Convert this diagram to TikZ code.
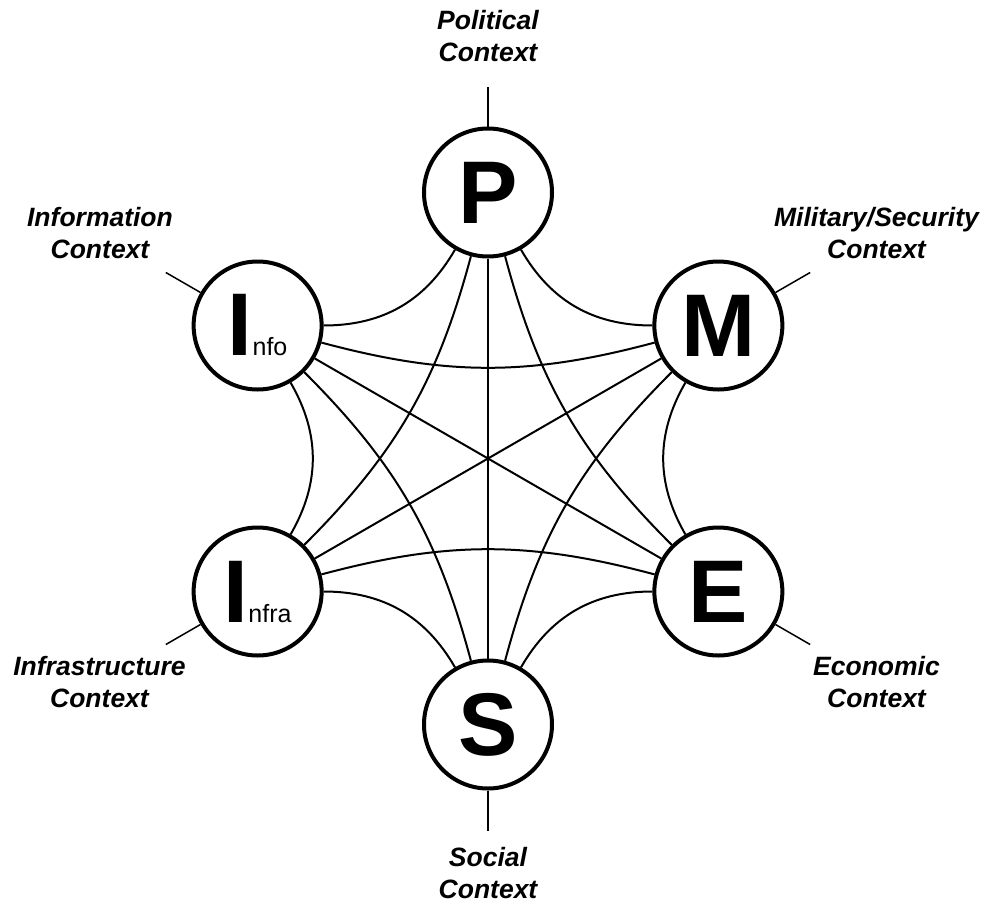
\documentclass[tikz,border=0pt]{standalone}
\usepackage{fontspec}
\setmainfont{Liberation Sans}
\usetikzlibrary{calc}

\tikzset{
    ctx/.style={circle, draw, line width=4pt, minimum size=128pt, inner sep=0pt,
        font=\fontsize{89}{89}\selectfont\bfseries},
    link/.style={line width=2pt},
    stub/.style={line width=1.5pt},
    lbl/.style={align=center, inner sep=0pt,
        font=\fontsize{26.5}{32}\selectfont\bfseries\itshape}
}
\newcommand{\tailtext}[1]{{\fontsize{25}{25}\selectfont\mdseries #1}}

\begin{document}
\begin{tikzpicture}[x=1pt,y=1pt]
        \useasboundingbox (-488,458.5) rectangle (497,-447.5);
        \node[ctx] (pol) at (90:266) {P};
        \node[ctx] (mil) at (30:266) {M};
        \node[ctx] (eco) at (-30:266) {E};
        \node[ctx] (soc) at (-90:266) {S};
        \node[ctx] (infra) at (-150:266) {I\tailtext{nfra}};
        \node[ctx] (info) at (150:266) {I\tailtext{nfo}};
        % neighbours, second neighbours, opposites
        \foreach \a/\b in {pol/info, info/infra, infra/soc, soc/eco, eco/mil, mil/pol}
            \draw[link] (\a) to[bend left=30] (\b);
        \foreach \a/\b in {pol/infra, info/soc, infra/eco, soc/mil, eco/pol, mil/info}
            \draw[link] (\a) to[bend left=15] (\b);
        \foreach \a/\b in {pol/soc, info/eco, infra/mil}
            \draw[link] (\a) -- (\b);
        % context stubs
        \foreach \n/\ang in {pol/90, mil/30, eco/-30, soc/-90, infra/-150, info/150} {
            \coordinate (\n-tip) at ($(\n)+(\ang:106)$);
            \draw[stub] (\n.\ang) -- (\n-tip);
        }
        \node[lbl] (pol-lbl) at (0,422.5) {Political\\Context};
        \node[lbl] (mil-lbl) at (388.5,225.5) {Military/Security\\Context};
        \node[lbl] (eco-lbl) at (388.5,-223.5) {Economic\\Context};
        \node[lbl] (soc-lbl) at (0,-415) {Social\\Context};
        \node[lbl] (infra-lbl) at (-388.5,-223.5) {Infrastructure\\Context};
        \node[lbl] (info-lbl) at (-388,225.5) {Information\\Context};
\end{tikzpicture}
\end{document}
